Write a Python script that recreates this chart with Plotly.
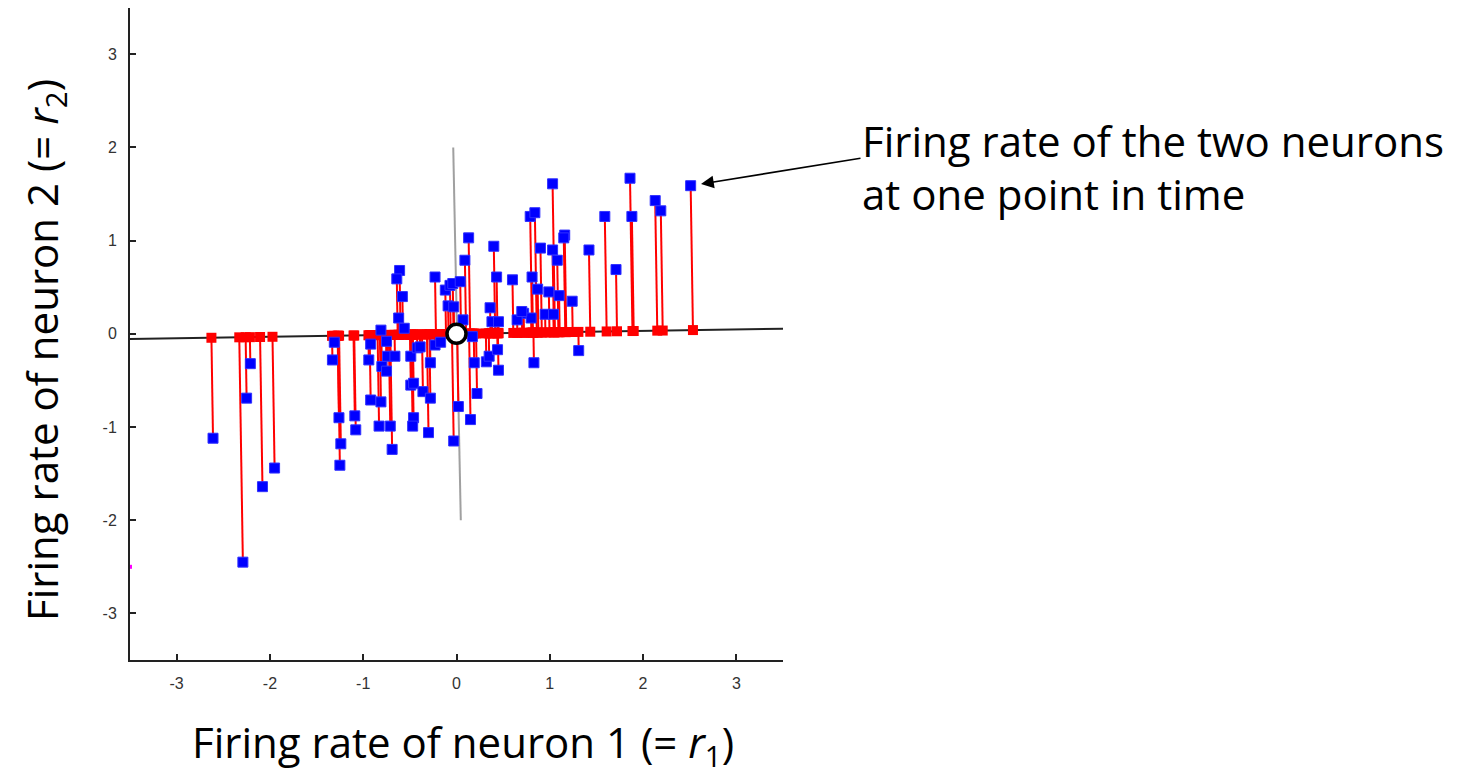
import numpy as np
import plotly.graph_objects as go

# Blue points: firing rates (r1, r2) at individual time points
r1 = [-2.61, -2.21, -2.25, -2.29, -2.08, -1.95, -1.31, -1.33, -1.26, -1.24,
      -1.25, -1.09, -1.08, -0.92, -0.94, -0.92, -0.81, -0.83, -0.81, -0.75,
      -0.74, -0.66, -0.80, -0.75, -0.71, -0.69, -0.61, -0.64, -0.58, -0.62,
      -0.56, -0.49, -0.49, -0.46, -0.47, -0.42, -0.46, -0.28, -0.23, -0.17,
      -0.36, -0.28, -0.30, -0.23, -0.12, -0.07, -0.04, 0.04, -0.09, -0.03,
      0.13, 0.09, 0.07, 0.02, -0.03, 0.15, 0.19, 0.22, 0.17, 0.32,
      0.35, 0.44, 0.45, 0.36, 0.38, 0.45, 0.40, 0.43, 1.03, 0.79,
      0.84, 1.16, 1.15, 0.90, 1.03, 1.08, 1.42, 0.60, 0.81, 0.87,
      0.99, 1.10, 1.24, 0.95, 1.04, 0.72, 0.65, 0.80, 1.31, 0.83,
      1.59, 1.71, 1.86, 1.88, 2.13, 2.19, 2.51, 0.70, -0.39]
r2 = [-1.12, -0.32, -0.69, -2.45, -1.64, -1.44, -0.09, -0.28, -0.90, -1.18,
      -1.41, -0.88, -1.03, -0.11, -0.28, -0.71, -0.73, -0.99, 0.04, -0.08,
      -0.24, -0.24, -0.35, -0.40, -0.99, -1.24, 0.68, 0.59, 0.40, 0.17,
      0.06, -0.24, -0.55, -0.90, -0.99, -0.15, -0.53, -0.31, -0.12, -0.09,
      -0.62, -0.69, -1.06, 0.61, 0.47, 0.52, 0.54, 0.56, 0.30, 0.29,
      1.03, 0.79, 0.15, -0.78, -1.15, -0.92, -0.31, -0.64, -0.03, -0.30,
      -0.24, -0.17, -0.39, 0.28, 0.13, 0.13, 0.94, 0.61, 1.61, 1.26,
      1.30, 1.06, 1.03, 0.92, 0.90, 0.79, 0.90, 0.58, 0.61, 0.48,
      0.45, 0.41, 0.35, 0.21, 0.21, 0.22, 0.15, 0.17, -0.18, -0.31,
      1.26, 0.69, 1.67, 1.26, 1.43, 1.32, 1.59, 0.24, -0.14]

# Principal direction (slope of black line) and the short gray orthogonal line
axis_slope = 0.016
axis_extent = [-3.5, 3.5]
gray_x = [-0.035, 0.046]
gray_y = [2.0, -2.0]

tick_vals = [-3, -2, -1, 0, 1, 2, 3]
tick_text = ["-3", "-2", "-1", "0", "1", "2", "3"]

# projection of each point onto the black line
u = np.array([1.0, axis_slope]) / np.hypot(1.0, axis_slope)
P = np.column_stack([r1, r2])
t = P @ u
proj = np.outer(t, u)

lx, ly = [], []
for (bx, by), (px, py) in zip(P, proj):
    lx += [bx, px, None]
    ly += [by, py, None]

fig = go.Figure()
fig.add_trace(go.Scatter(x=axis_extent, y=[axis_extent[0] * axis_slope, axis_extent[1] * axis_slope],
                         mode="lines", line=dict(color="#222222", width=2), hoverinfo="skip"))
fig.add_trace(go.Scatter(x=gray_x, y=gray_y, mode="lines",
                         line=dict(color="#a0a0a0", width=2), hoverinfo="skip"))
fig.add_trace(go.Scatter(x=lx, y=ly, mode="lines", line=dict(color="#ff0000", width=2),
                         hoverinfo="skip"))
fig.add_trace(go.Scatter(x=proj[:, 0], y=proj[:, 1], mode="markers",
                         marker=dict(symbol="square", size=10, color="#ff0000")))
fig.add_trace(go.Scatter(x=r1, y=r2, mode="markers",
                         marker=dict(symbol="square", size=10, color="#0000ff",
                                     line=dict(color="#3030ff", width=1))))
fig.add_trace(go.Scatter(x=[0], y=[0], mode="markers",
                         marker=dict(symbol="circle", size=19, color="white",
                                     line=dict(color="black", width=3.5))))
fig.add_trace(go.Scatter(x=[-3.5], y=[-2.5], mode="markers",
                         marker=dict(symbol="square", size=4, color="#ff00ff"), cliponaxis=False))

W, H = 1478, 775
x0, x1 = 130, 783
y0, y1 = 7.7, 660

tick_font = dict(family="Liberation Sans", size=16, color="#333333")
axis_common = dict(range=[-3.5, 3.5], tickmode="array", tickvals=tick_vals, ticktext=tick_text,
                   showgrid=False, zeroline=False, showline=True, linecolor="#222222",
                   linewidth=2, ticks="inside", ticklen=6, tickwidth=1.5, tickcolor="#222222",
                   tickfont=tick_font, fixedrange=True)

fig.update_layout(
    width=W, height=H,
    margin=dict(l=0, r=0, t=0, b=0),
    paper_bgcolor="white", plot_bgcolor="white",
    showlegend=False,
    xaxis=dict(domain=[x0 / W, x1 / W], ticklabelstandoff=8, **axis_common),
    yaxis=dict(domain=[1 - y1 / H, 1 - y0 / H], ticklabelstandoff=8, **axis_common),
    font=dict(family="Open Sans", color="black", size=16),
)

title_font = dict(family="Open Sans", size=42, color="black")
fig.add_annotation(xref="paper", yref="paper", x=463 / W, y=1 - 744 / H,
                   text="Firing rate of neuron 1 (= <i>r</i><sub>1</sub>)",
                   showarrow=False, font=title_font, xanchor="center", yanchor="middle")
fig.add_annotation(xref="paper", yref="paper", x=44 / W, y=1 - 350 / H,
                   text="Firing rate of neuron 2 (= <i>r</i><sub>2</sub>)",
                   showarrow=False, font=title_font, textangle=-90,
                   xanchor="center", yanchor="middle")
fig.add_annotation(xref="paper", yref="paper", x=860 / W, y=1 - 140 / H,
                   text="Firing rate of the two neurons", showarrow=False,
                   font=title_font, xanchor="left", yanchor="middle")
fig.add_annotation(xref="paper", yref="paper", x=860 / W, y=1 - 193 / H,
                   text="at one point in time", showarrow=False,
                   font=title_font, xanchor="left", yanchor="middle")
fig.add_annotation(xref="paper", yref="paper", x=701 / W, y=1 - 184 / H,
                   ax=161, ay=-26, text="", showarrow=True,
                   arrowhead=2, arrowsize=1.6, arrowwidth=1.6, arrowcolor="black")

fig.write_html("out.html")
